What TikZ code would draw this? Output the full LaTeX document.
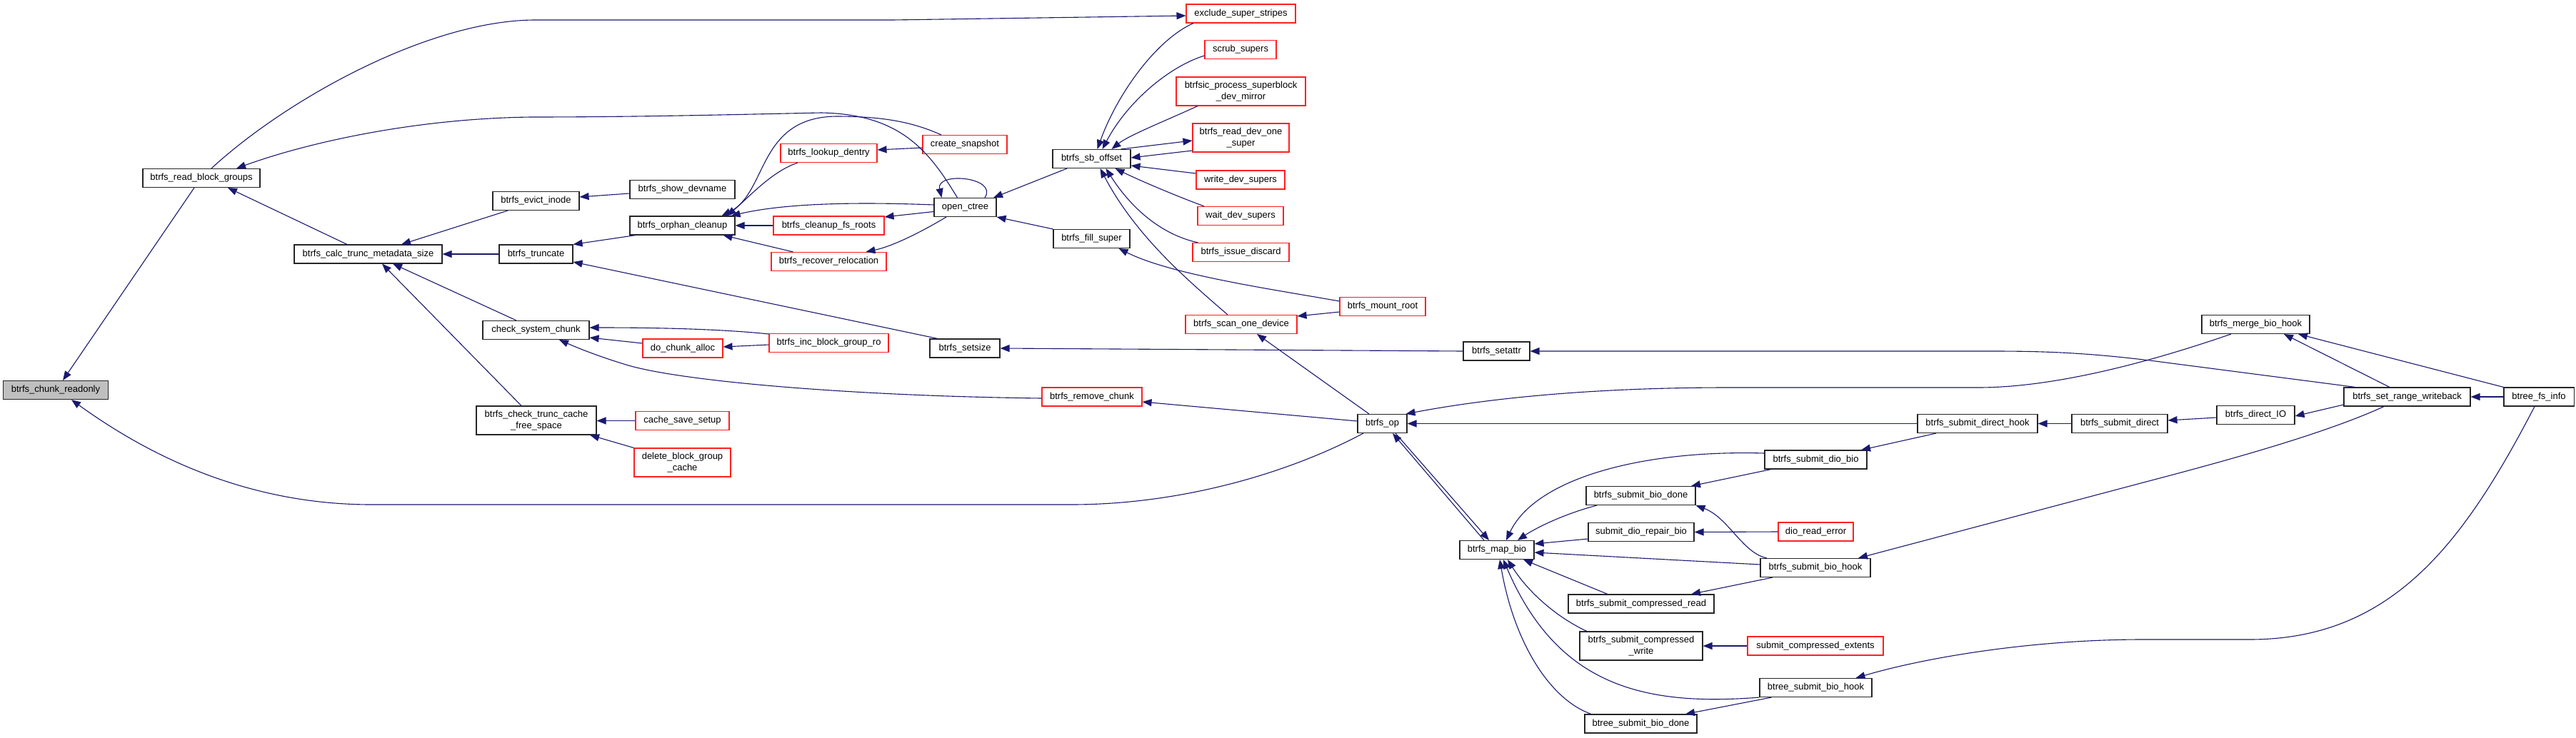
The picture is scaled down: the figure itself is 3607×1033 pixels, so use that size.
\documentclass[tikz,border=0pt]{standalone}
\usepackage{fontspec}
\setmainfont{Liberation Sans}
\usetikzlibrary{arrows.meta}
\definecolor{edgec}{HTML}{191970}
\definecolor{redc}{HTML}{FF2020}
\definecolor{grayfill}{HTML}{BFBFBF}
\begin{document}
\begin{tikzpicture}[x=1pt,y=-1pt,
  fn/.style={draw=black!85, line width=1.1pt, fill=white, inner sep=0pt,
    font=\fontsize{13}{15.3}\selectfont, align=center, minimum height=26pt},
  fr/.style={fn, draw=redc},
  fg/.style={fn, fill=grayfill},
  two/.style={minimum height=40pt},
  e/.style={draw=edgec, line width=1.1pt, -{Triangle[length=13pt,width=10pt]}}]
\fill[white] (0,0) rectangle (3607,1033);
\useasboundingbox (0,0) rectangle (3607,1033);

% nodes
\node[fg, minimum width=147pt] (cro) at (78,546.5) {btrfs\_chunk\_readonly};
\node[fn, minimum width=164pt] (rbg) at (282,249.5) {btrfs\_read\_block\_groups};
\node[fn, minimum width=207pt] (ctm) at (515.5,356) {btrfs\_calc\_trunc\_metadata\_size};
\node[fn, minimum width=121pt] (evi) at (750.5,281.5) {btrfs\_evict\_inode};
\node[fn, minimum width=147pt] (sdn) at (955.5,265.5) {btrfs\_show\_devname};
\node[fn, minimum width=147pt] (orc) at (955.5,316) {btrfs\_orphan\_cleanup};
\node[fn, minimum width=103pt] (trn) at (750.5,356) {btrfs\_truncate};
\node[fn, minimum width=149pt] (csc) at (750.5,462.5) {check\_system\_chunk};
\node[fr, minimum width=112pt] (dca) at (956,488) {do\_chunk\_alloc};
\node[fr, minimum width=135pt] (ldn) at (1160.5,214.5) {btrfs\_lookup\_dentry};
\node[fr, minimum width=155pt] (cfr) at (1160.5,316) {btrfs\_cleanup\_fs\_roots};
\node[fr, minimum width=161pt] (rrl) at (1160.5,366.5) {btrfs\_recover\_relocation};
\node[fr, minimum width=167pt] (ibg) at (1160.5,480.5) {btrfs\_inc\_block\_group\_ro};
\node[fr, minimum width=118pt] (csn) at (1351,202.5) {create\_snapshot};
\node[fn, minimum width=87pt] (oct) at (1351.5,290.5) {open\_ctree};
\node[fn, minimum width=98pt] (sts) at (1351,488) {btrfs\_setsize};
\node[fn, minimum width=109pt] (sbo) at (1528.5,222.5) {btrfs\_sb\_offset};
\node[fn, minimum width=107pt] (fls) at (1528.5,334.5) {btrfs\_fill\_super};
\node[fr, minimum width=153pt] (ess) at (1737.5,19) {exclude\_super\_stripes};
\node[fr, minimum width=100pt] (scs) at (1737,69.5) {scrub\_supers};
\node[fr, two, minimum width=181pt] (bps) at (1737.5,128) {btrfsic\_process\_superblock\\\_dev\_mirror};
\node[fr, two, minimum width=135pt] (rdo) at (1737.5,193) {btrfs\_read\_dev\_one\\\_super};
\node[fr, minimum width=124pt] (wrd) at (1737,252) {write\_dev\_supers};
\node[fr, minimum width=120pt] (wad) at (1737,302.5) {wait\_dev\_supers};
\node[fr, minimum width=135pt] (isd) at (1737.5,353.5) {btrfs\_issue\_discard};
\node[fr, minimum width=156pt] (sod) at (1738,454.5) {btrfs\_scan\_one\_device};
\node[fr, minimum width=120pt] (mnt) at (1936,429.5) {btrfs\_mount\_root};
\node[fn, minimum width=93pt] (sat) at (2095.5,492) {btrfs\_setattr};
\node[fn, minimum width=151pt] (mbh) at (3158.5,454.5) {btrfs\_merge\_bio\_hook};
\node[fn, minimum width=177pt] (srw) at (3370.5,556) {btrfs\_set\_range\_writeback};
\node[fn, minimum width=98pt] (bfi) at (3555,556) {btree\_fs\_info};
\node[fn, minimum width=109pt] (dio) at (3158.5,581.5) {btrfs\_direct\_IO};
\node[fn, minimum width=168pt] (sdh) at (2769,593.5) {btrfs\_submit\_direct\_hook};
\node[fn, minimum width=134pt] (sdr) at (2968,593.5) {btrfs\_submit\_direct};
\node[fn, minimum width=143pt] (sdb) at (2542.5,644) {btrfs\_submit\_dio\_bio};
\node[fr, minimum width=105pt] (dre) at (2542.5,745) {dio\_read\_error};
\node[fn, minimum width=154pt] (sbh) at (2542,795.5) {btrfs\_submit\_bio\_hook};
\node[fr, minimum width=190pt] (sce) at (2542,905) {submit\_compressed\_extents};
\node[fn, minimum width=157pt] (tbh) at (2542.5,963.5) {btree\_submit\_bio\_hook};
\node[fn, minimum width=69pt] (bop) at (1935.5,593.5) {btrfs\_op};
\node[fn, minimum width=104pt] (mbi) at (2096,770.5) {btrfs\_map\_bio};
\node[fn, minimum width=153pt] (sbd) at (2297.5,694.5) {btrfs\_submit\_bio\_done};
\node[fn, minimum width=148pt] (srb) at (2298,745.5) {submit\_dio\_repair\_bio};
\node[fn, minimum width=204pt] (scr) at (2298,846) {btrfs\_submit\_compressed\_read};
\node[fn, two, minimum width=172pt] (scw) at (2298,905) {btrfs\_submit\_compressed\\\_write};
\node[fn, minimum width=157pt] (tbd) at (2297.5,1014) {btree\_submit\_bio\_done};
\node[fn, two, minimum width=168pt] (ctf) at (751,589) {btrfs\_check\_trunc\_cache\\\_free\_space};
\node[fr, minimum width=131pt] (css) at (955.5,589.5) {cache\_save\_setup};
\node[fr, two, minimum width=135pt] (dbc) at (955.5,648) {delete\_block\_group\\\_cache};
\node[fr, minimum width=140pt] (rmc) at (1529,556) {btrfs\_remove\_chunk};

% edges
\draw[e] ([xshift=-10pt]rbg.south) -- ([xshift=10pt]cro.north);
\draw[e] ([xshift=-26.5pt]bop.south) .. controls (1800,665) and (1650,707) .. (1500,707) -- (520,707) .. controls (330,707) and (190,625) .. ([xshift=22pt]cro.south);
\draw[e] ([xshift=14pt]rbg.north) .. controls (400,140) and (600,28) .. (750,28) -- (1250,28) -- ([yshift=-3pt]ess.west);
\draw[e] ([xshift=-11pt]oct.north) .. controls (1300,210) and (1260,160) .. (1150,158) .. controls (1050,160) and (900,164) .. (744,164) .. controls (580,166) and (430,200) .. ([xshift=49pt]rbg.north);
\draw[e] ([xshift=-29.5pt]ctm.north) -- ([xshift=37pt]rbg.south);
\draw[e] ([xshift=-39.5pt]evi.south) -- ([xshift=46.5pt]ctm.north);
\draw[e] (trn.west) -- (ctm.east);
\draw[e] ([xshift=-27.5pt]csc.north) -- ([xshift=34.5pt]ctm.south);
\draw[e] ([xshift=-21pt]ctf.north) -- ([xshift=19.5pt]ctm.south);
\draw[e] ([yshift=-5.5pt]sdn.west) -- ([yshift=5.5pt]evi.east);
\draw[e] ([xshift=-65.5pt]orc.south) -- (trn.north east);
\draw[e] ([xshift=-38pt]sts.north) -- ([yshift=-11pt]trn.east);
\draw[e] ([xshift=-43.5pt]ldn.south) .. controls (1080,240) and (1045,280) .. ([xshift=62pt]orc.north);
\draw[e] ([xshift=-33pt]csn.north) .. controls (1280,172) and (1240,163) .. (1170,163) .. controls (1060,165) and (1075,270) .. ([xshift=55pt]orc.north);
\draw[e] ([yshift=3.5pt]oct.west) .. controls (1230,284) and (1110,282) .. ([xshift=68pt]orc.north);
\draw[e] (cfr.west) -- (orc.east);
\draw[e] ([xshift=-50pt]rrl.north) -- ([xshift=57pt]orc.south);
\draw[e] ([yshift=-4.5pt]csn.west) -- ([yshift=4.5pt]ldn.east);
\draw[e] ([yshift=-6pt]oct.west) -- ([yshift=12pt]cfr.east);
\draw[e] ([xshift=-26.5pt]oct.south) .. controls (1290,325) and (1250,345) .. ([xshift=52pt]rrl.north);
\draw[e] ([xshift=27.5pt]oct.north) .. controls (1398,248) and (1310,240) .. ([xshift=-33pt]oct.north);
\draw[e] ([xshift=-34.5pt]sbo.south) -- ([xshift=39.5pt]oct.north);
\draw[e] (fls.north west) -- (oct.south east);
\draw[e] ([yshift=12.5pt]ibg.west) .. controls (1000,460) and (900,459) .. ([yshift=3.5pt]csc.east);
\draw[e] ([yshift=7pt]dca.west) -- ([yshift=-10.5pt]csc.east);
\draw[e] ([yshift=-2pt]rmc.west) .. controls (1200,555) and (960,535) .. (880,512) .. controls (840,500) and (810,488) .. ([xshift=32.5pt]csc.south);
\draw[e] ([yshift=-2.5pt]ibg.west) -- ([yshift=2pt]dca.east);
\draw[e] (css.west) -- (css.west -| ctf.east);
\draw[e] (dbc.north west) -- ([xshift=75pt]ctf.south);
\draw[e] ([xshift=-66.5pt]ess.south) .. controls (1620,55) and (1565,130) .. ([xshift=8pt]sbo.north);
\draw[e] ([yshift=-8.5pt]scs.west) .. controls (1640,92) and (1580,140) .. ([xshift=15pt]sbo.north);
\draw[e] ([xshift=-60.5pt]bps.south) .. controls (1630,170) and (1580,190) .. ([xshift=28pt]sbo.north);
\draw[e] ([xshift=41pt]sbo.north) -- ([yshift=-4pt]rdo.west);
\draw[e] ([yshift=-18pt]rdo.west) -- ([yshift=1.5pt]sbo.east);
\draw[e] ([yshift=9pt]wrd.west) -- ([yshift=-9.5pt]sbo.east);
\draw[e] ([xshift=-51pt]wad.north) .. controls (1640,272) and (1590,250) .. ([xshift=33pt]sbo.south);
\draw[e] ([xshift=-60pt]isd.north) .. controls (1610,325) and (1570,270) .. ([xshift=20pt]sbo.south);
\draw[e] ([xshift=-19pt]sod.north) .. controls (1660,390) and (1590,330) .. ([xshift=12pt]sbo.south);
\draw[e] ([yshift=7.5pt]mnt.west) .. controls (1780,405) and (1640,385) .. ([xshift=38pt]fls.south);
\draw[e] ([yshift=-7.5pt]mnt.west) -- ([yshift=11.5pt]sod.east);
\draw[e] ([xshift=-18.5pt]bop.north) -- ([xshift=22pt]sod.south);
\draw[e] (sat.west) -- (sts.east);
\draw[e] ([xshift=-72.5pt]srw.north) -- (3010,505) .. controls (2920,494) and (2860,492) .. (2790,492) -- (sat.east);
\draw[e] ([xshift=-34.5pt]mbh.south) .. controls (3060,490) and (2900,543) .. (2770,543) -- (2420,543) .. controls (2250,543) and (2100,555) .. ([xshift=33pt]bop.north);
\draw[e] (sdh.west) -- (bop.east);
\draw[e] ([yshift=3.5pt]bop.west) -- ([yshift=-7pt]rmc.east);
\draw[e] ([xshift=-18pt]mbi.north) -- ([xshift=14.5pt]bop.south);
\draw[e] ([xshift=18.5pt]bop.south) -- ([xshift=-11pt]mbi.north);
\draw[e] ([yshift=9pt]sdb.west) .. controls (2300,630) and (2150,670) .. ([xshift=13pt]mbi.north);
\draw[e] ([xshift=-61.5pt]sbd.south) .. controls (2190,720) and (2150,740) .. ([xshift=29pt]mbi.north);
\draw[e] ([yshift=-9.5pt]srb.west) -- ([yshift=8.5pt]mbi.east);
\draw[e] ([yshift=4.5pt]sbh.west) -- ([yshift=-3.5pt]mbi.east);
\draw[e] ([xshift=-47pt]scr.north) -- ([xshift=37pt]mbi.south);
\draw[e] ([xshift=-76pt]scw.north) .. controls (2180,865) and (2140,830) .. ([xshift=15pt]mbi.south);
\draw[e] (tbh.south west) .. controls (2300,990) and (2180,960) .. ([xshift=9pt]mbi.south);
\draw[e] ([xshift=-69.5pt]tbd.north) .. controls (2170,980) and (2120,900) .. ([xshift=4pt]mbi.south);
\draw[e] ([xshift=-62.5pt]sdb.south) -- ([xshift=70.5pt]sbd.north);
\draw[e] ([xshift=-68pt]sbh.north) .. controls (2440,775) and (2420,725) .. (sbd.south east);
\draw[e] (dre.west) -- (srb.east);
\draw[e] ([xshift=-60pt]sbh.south) -- ([xshift=70pt]scr.north);
\draw[e] (sce.west) -- (scw.east);
\draw[e] ([xshift=-58pt]sdh.south) -- ([xshift=63.5pt]sdb.north);
\draw[e] (sdr.west) -- (sdh.east);
\draw[e] ([yshift=-3.5pt]dio.west) -- ([yshift=4.5pt]sdr.east);
\draw[e] ([yshift=-11pt]srw.west) -- ([yshift=-1.5pt]dio.east);
\draw[e] ([xshift=-32.5pt]srw.south) .. controls (3250,610) and (3100,650) .. (3005,675) -- ([xshift=60pt]sbh.north);
\draw[e] (bfi.west) -- (srw.east);
\draw[e] ([xshift=-6pt]bfi.south) .. controls (3450,760) and (3350,896) .. (3150,896) -- (3000,896) .. controls (2850,896) and (2700,920) .. ([xshift=56pt]tbh.north);
\draw[e] ([xshift=-24.5pt]srw.north) -- ([xshift=39.5pt]mbh.south);
\draw[e] (bfi.north west) -- ([xshift=59.5pt]mbh.south);
\draw[e] ([xshift=-62pt]tbh.south) -- ([xshift=62.5pt]tbd.north);
\end{tikzpicture}
\end{document}
